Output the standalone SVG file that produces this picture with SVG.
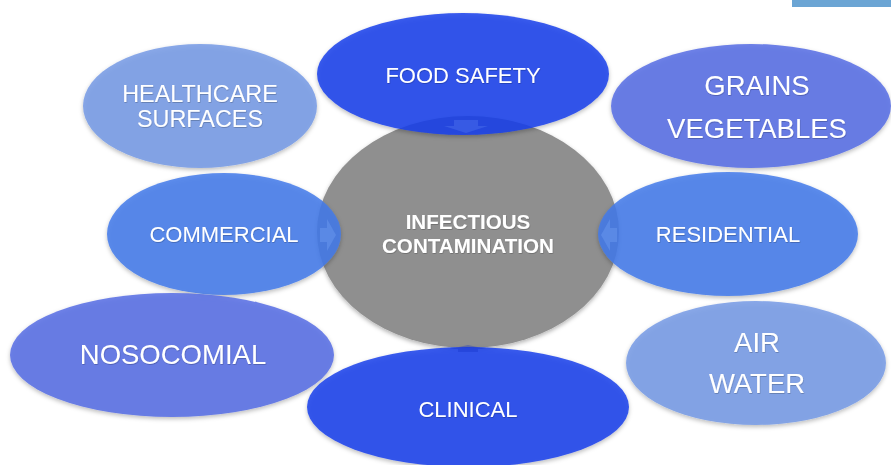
<svg xmlns="http://www.w3.org/2000/svg" width="891" height="465" viewBox="0 0 891 465">
  <defs>
    <filter id="shade" x="-10%" y="-10%" width="120%" height="125%">
      <feDropShadow dx="0" dy="2" stdDeviation="2" flood-color="#000" flood-opacity="0.3"/>
    </filter>
    <filter id="txtshade" x="-5%" y="-20%" width="110%" height="150%">
      <feDropShadow dx="0.5" dy="1" stdDeviation="0.6" flood-color="#000" flood-opacity="0.2"/>
    </filter>
    <style>
      .node { filter: url(#shade); }
      .hub { fill: #8f8f8f; }
      .deep { fill: rgb(24,62,235); fill-opacity: 0.85; }
      .mid { fill: rgb(67,122,234); fill-opacity: 0.85; }
      .violet { fill: rgb(86,108,228); fill-opacity: 0.85; }
      .pale { fill: rgb(118,154,229); fill-opacity: 0.85; }
      text { font-family: "Liberation Sans", Arial, sans-serif; fill: #ffffff; text-anchor: middle; filter: url(#txtshade); }
      .t22 { font-size: 22px; }
      .t23 { font-size: 23.4px; }
      .t27 { font-size: 27.5px; }
      .hubtxt { font-size: 20.6px; font-weight: bold; }
      .arrow { fill-opacity: 0.35; }
    </style>
  </defs>

  <rect id="corner-tab" x="792" y="0" width="99" height="7" fill="#6ba5d4"/>

  <g id="infectious-contamination" class="node">
    <ellipse class="hub" cx="468" cy="232" rx="151" ry="116"/>
    <text class="hubtxt" x="468" y="229">INFECTIOUS</text>
    <text class="hubtxt" x="468" y="253">CONTAMINATION</text>
  </g>

  <g id="healthcare-surfaces" class="node">
    <ellipse class="pale" cx="200" cy="106" rx="117" ry="62"/>
    <text class="t23" x="200" y="102">HEALTHCARE</text>
    <text class="t23" x="200" y="127">SURFACES</text>
  </g>

  <g id="grains-vegetables" class="node">
    <ellipse class="violet" cx="751" cy="106" rx="140" ry="62"/>
    <text class="t27" x="757" y="95">GRAINS</text>
    <text class="t27" x="757" y="138">VEGETABLES</text>
  </g>

  <g id="commercial" class="node">
    <ellipse class="mid" cx="224" cy="234" rx="117" ry="61"/>
    <text class="t22" x="224" y="242">COMMERCIAL</text>
  </g>

  <g id="residential" class="node">
    <ellipse class="mid" cx="728" cy="234" rx="130" ry="62"/>
    <text class="t22" x="728" y="242">RESIDENTIAL</text>
  </g>

  <g id="nosocomial" class="node">
    <ellipse class="violet" cx="172" cy="355" rx="162" ry="62"/>
    <text class="t27" x="173" y="364">NOSOCOMIAL</text>
  </g>

  <g id="air-water" class="node">
    <ellipse class="pale" cx="756" cy="363" rx="130" ry="62"/>
    <text class="t27" x="757" y="352">AIR</text>
    <text class="t27" x="757" y="393">WATER</text>
  </g>

  <g id="food-safety" class="node">
    <ellipse class="deep" cx="463" cy="74" rx="146" ry="61"/>
    <text class="t22" x="463" y="83">FOOD SAFETY</text>
  </g>

  <g id="clinical" class="node">
    <ellipse class="deep" cx="468" cy="407" rx="161" ry="60"/>
    <text class="t22" x="468" y="417">CLINICAL</text>
  </g>

  <!-- arrows pointing in toward the hub -->
  <g id="connectors">
    <path class="arrow" fill="rgb(90,125,240)" d="M454,120 H478 V126 H488 L466,133 L444,126 H454 Z"/>
    <path class="arrow" fill="rgb(120,165,245)" d="M320,228 H327 V219 L336,235 L327,251 V242 H320 Z"/>
    <path class="arrow" fill="rgb(120,165,245)" d="M617,228 H610 V219 L601,235 L610,251 V242 H617 Z"/>
    <path class="arrow" fill="rgb(20,50,200)" d="M458,352 H478 V349 H486 L468,345 L450,349 H458 Z" fill-opacity="0.2"/>
  </g>
</svg>
